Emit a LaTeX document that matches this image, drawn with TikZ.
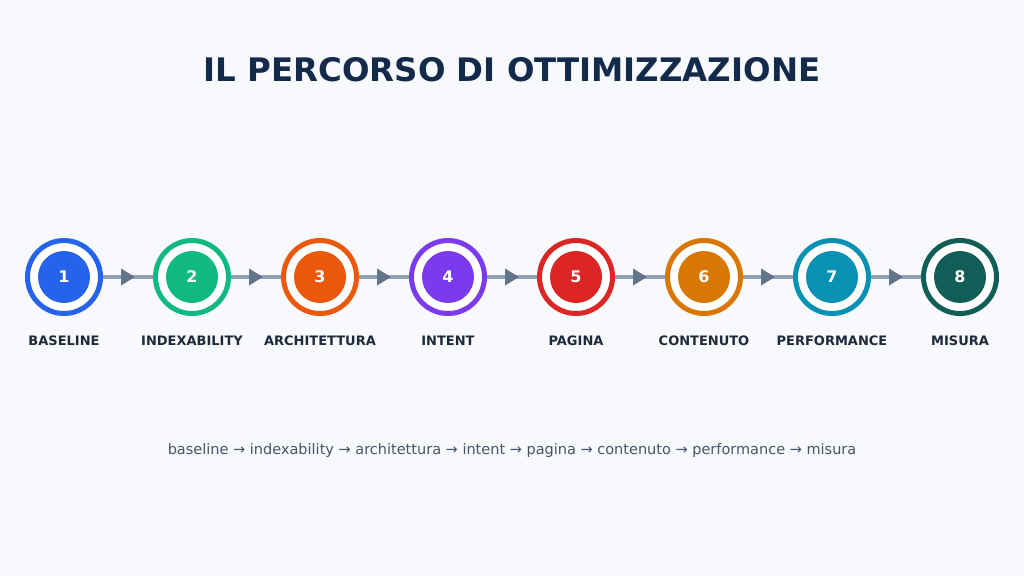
\documentclass[tikz,border=0pt]{standalone}
\usepackage{fontspec}
\setmainfont{DejaVu Sans}
\usetikzlibrary{decorations.markings,arrows.meta}
\definecolor{bg}{HTML}{F7F9FC}
\definecolor{titlec}{HTML}{132A4A}
\definecolor{labelc}{HTML}{1E293B}
\definecolor{subc}{HTML}{475569}
\definecolor{linec}{HTML}{94A3B8}
\definecolor{headc}{HTML}{64748B}
\definecolor{k1}{HTML}{2563EB}
\definecolor{k2}{HTML}{10B981}
\definecolor{k3}{HTML}{EA580C}
\definecolor{k4}{HTML}{7C3AED}
\definecolor{k5}{HTML}{DC2626}
\definecolor{k6}{HTML}{D97706}
\definecolor{k7}{HTML}{0891B2}
\definecolor{k8}{HTML}{115E59}
\tikzset{
  ring/.style={circle, draw=#1, line width=5pt, fill=white, minimum size=73pt, inner sep=0pt},
  core/.style={circle, fill=#1, minimum size=52pt, inner sep=0pt, text=white, font=\bfseries\fontsize{16}{18}\selectfont},
  steplabel/.style={text=labelc, font=\bfseries\fontsize{13}{15}\selectfont},
  link/.style={draw=linec, line width=4pt, postaction={decorate},
    decoration={markings, mark=at position 32pt with {\arrow[headc]{Triangle[length=14pt,width=16pt]}}}}
}
\begin{document}
\begin{tikzpicture}[x=1pt,y=-1pt]
\fill[bg] (0,0) rectangle (1024,576);
\useasboundingbox (0,0) rectangle (1024,576);
\node[text=titlec, font=\bfseries\fontsize{32.4}{38}\selectfont] (title) at (512,70) {IL PERCORSO DI OTTIMIZZAZIONE};
\foreach \i/\lab in {1/BASELINE,2/INDEXABILITY,3/ARCHITETTURA,4/INTENT,5/PAGINA,6/CONTENUTO,7/PERFORMANCE,8/MISURA}{
  \node[ring=k\i] (r\i) at ({64+128*(\i-1)},277) {};
  \node[core=k\i] (c\i) at (r\i) {\i};
  \node[steplabel] (l\i) at ({64+128*(\i-1)},341) {\lab};
}
\foreach \a/\b in {1/2,2/3,3/4,4/5,5/6,6/7,7/8}{
  \path[link] (r\a) -- (r\b);
}
\node[text=subc, font=\fontsize{14.5}{17}\selectfont] (sub) at (512,450) {baseline → indexability → architettura → intent → pagina → contenuto → performance → misura};
\end{tikzpicture}
\end{document}
